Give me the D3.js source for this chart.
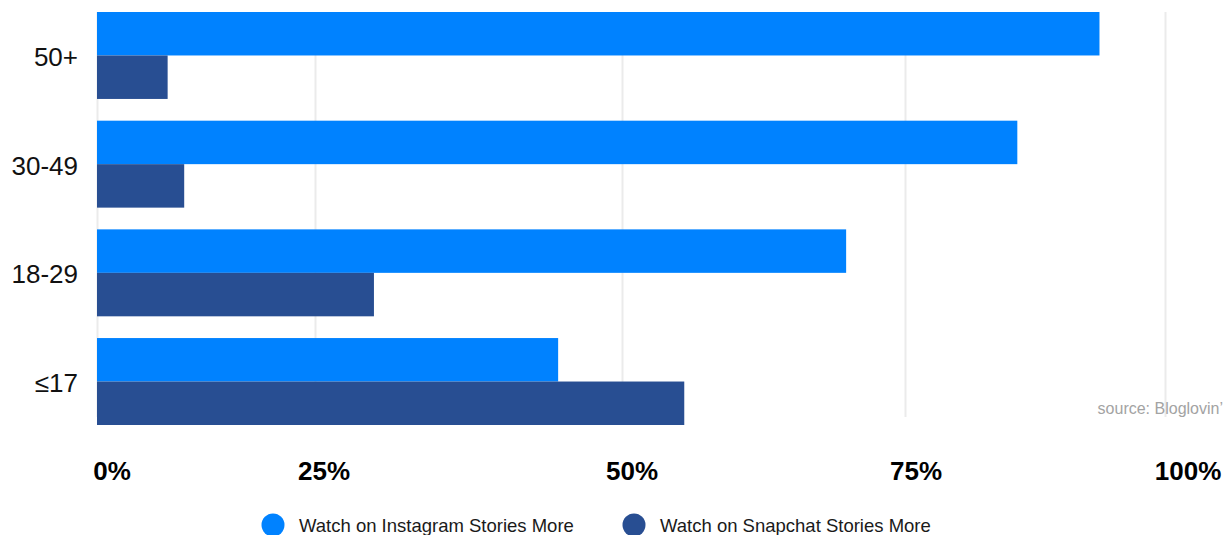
<!DOCTYPE html>
<html>
<head>
<meta charset="utf-8">
<script src="https://cdn.jsdelivr.net/npm/d3@7"></script>
<style>
  html, body { margin: 0; padding: 0; background: #ffffff; }
  svg { display: block; font-family: "Liberation Sans", Arial, sans-serif; }
</style>
</head>
<body>
<svg id="chart" width="1231" height="535"></svg>
<script>
// ---- data ----
const categories = ["50+", "30-49", "18-29", "\u226417"];
const seriesNames = ["Watch on Instagram Stories More", "Watch on Snapchat Stories More"];
const instagramValues = [93.7, 85.8, 69.8, 44.8];
const snapchatValues = [8.1, 10.0, 29.8, 55.5];
const tickValues = [0, 25, 50, 75, 100];
const tickLabels = ["0%", "25%", "50%", "75%", "100%"];
const sourceText = "source: Bloglovin\u2019";

// ---- styles / layout ----
const colors = ["#0082ff", "#284e92"];
const svg = d3.select("#chart");

// x scale (the reference's gridlines are unevenly spaced, so piecewise linear)
const x = d3.scaleLinear().domain(tickValues).range([97, 315, 622, 905, 1165]);
// tick label positions (labels sit slightly to the right of the gridlines)
const xLabel = d3.scaleLinear().domain(tickValues).range([112, 324, 632, 916, 1188]);

const y = d3.scaleBand().domain(categories).range([12, 425]).paddingInner(0.2).paddingOuter(0);
const ySub = d3.scaleBand().domain(seriesNames).range([0, y.bandwidth()]).padding(0);

const gridTop = 12, gridBottom = 417;

// gridlines
const grid = svg.append("g")
  .attr("transform", `translate(0,${gridBottom})`)
  .call(d3.axisBottom(x).tickValues(tickValues).tickSize(-(gridBottom - gridTop)).tickFormat(""));
grid.select(".domain").remove();
grid.selectAll(".tick line").attr("stroke", "#ebebeb").attr("stroke-width", 2);

// bars
const rows = categories.map((c, i) => ({ cat: c, vals: [instagramValues[i], snapchatValues[i]] }));
const groups = svg.append("g").selectAll("g")
  .data(rows).join("g")
  .attr("transform", d => `translate(0,${y(d.cat)})`);
groups.selectAll("rect")
  .data(d => d.vals.map((v, j) => ({ v, s: seriesNames[j], j })))
  .join("rect")
  .attr("x", x(0))
  .attr("y", d => ySub(d.s))
  .attr("width", d => x(d.v) - x(0))
  .attr("height", ySub.bandwidth())
  .attr("fill", d => colors[d.j]);

// category labels
svg.append("g").selectAll("text")
  .data(categories).join("text")
  .attr("x", 78)
  .attr("y", d => y(d) + y.bandwidth() / 2 + 10.5)
  .attr("text-anchor", "end")
  .attr("font-size", 26)
  .attr("fill", "#111")
  .text(d => d);

// x tick labels
svg.append("g").selectAll("text")
  .data(tickValues).join("text")
  .attr("x", d => xLabel(d))
  .attr("y", 480)
  .attr("text-anchor", "middle")
  .attr("font-size", 26)
  .attr("font-weight", "bold")
  .attr("fill", "#000")
  .text((d, i) => tickLabels[i]);

// source
svg.append("text")
  .attr("x", 1223)
  .attr("y", 414)
  .attr("text-anchor", "end")
  .attr("font-size", 16)
  .attr("fill", "#a3a3a3")
  .text(sourceText);

// legend
const legendX = [273, 634];
const legend = svg.append("g").selectAll("g")
  .data(seriesNames).join("g")
  .attr("transform", (d, i) => `translate(${legendX[i]},525)`);
legend.append("circle")
  .attr("r", 11.5)
  .attr("fill", (d, i) => colors[i]);
legend.append("text")
  .attr("x", 26)
  .attr("y", 7)
  .attr("font-size", 18.5)
  .attr("fill", "#1a1a1a")
  .text(d => d);
</script>
</body>
</html>
